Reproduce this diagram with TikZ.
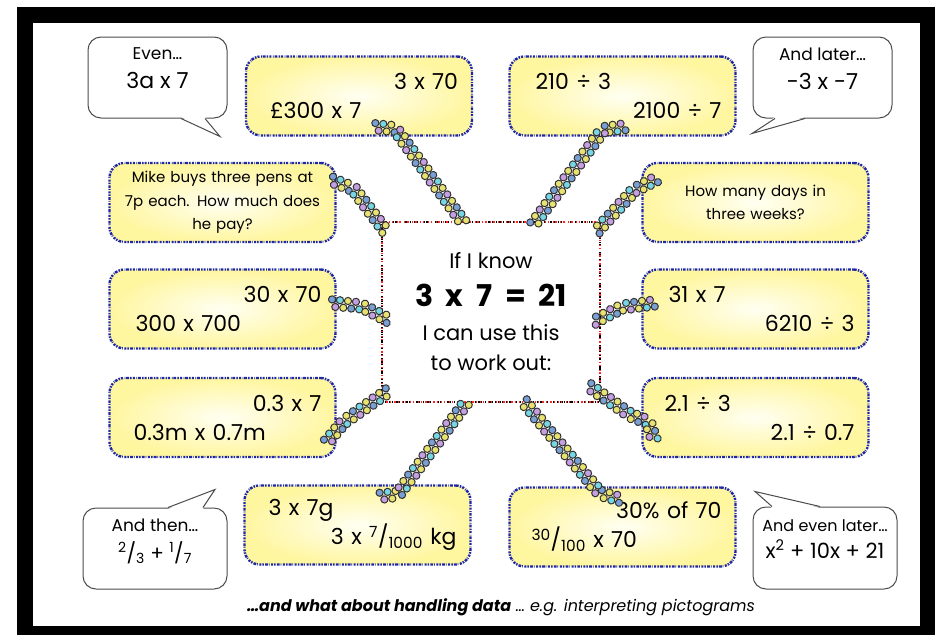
\documentclass[tikz,border=0pt]{standalone}
\usepackage{fontspec}
\setmainfont{Poppins}
\usetikzlibrary{calc,decorations.markings}

\definecolor{rimblue}{RGB}{30,40,165}
\definecolor{boxyellow}{RGB}{255,246,160}
\definecolor{beadyellow}{RGB}{232,226,112}
\definecolor{beadcyan}{RGB}{118,214,228}
\definecolor{beadpurple}{RGB}{198,158,226}
\definecolor{beadblue}{RGB}{120,160,212}

\tikzset{
  sumbox/.style={rounded corners=15pt, draw=rimblue, line width=2.4pt,
    dash pattern=on 1.5pt off 1.2pt on 2.8pt off 0.9pt on 0.7pt off 1.6pt on 2pt off 1.1pt,
    inner color=yellow!5, outer color=boxyellow,
    minimum width=226pt, minimum height=79pt, text width=198pt, align=left,
    inner sep=0pt, font=\fontsize{22}{29}\selectfont},
  wordbox/.style={sumbox, text width=215pt, align=center, font=\fontsize{15}{23.5}\selectfont},
  centrebox/.style={draw=black, line width=2.4pt, fill=white,
    dash pattern=on 1pt off 2pt on 2.5pt off 1pt on 0.8pt off 3pt,
    postaction={draw=red!85, line width=1.4pt, dash pattern=on 0.8pt off 3.5pt on 1.5pt off 2pt},
    minimum width=218pt, minimum height=180pt, align=center, inner sep=0pt,
    font=\fontsize{21}{30}\selectfont},
  bubble/.style={draw=black!70, line width=1pt, fill=white, rounded corners=13pt,
    minimum width=139pt, minimum height=81pt, align=center, inner sep=0pt,
    text depth=18pt, font=\fontsize{17}{29}\selectfont},
  tail/.style={draw=black!70, line width=1pt},
  beadchain/.style={postaction={decorate}, decoration={markings,
    mark=between positions 0 and 1 step 4pt with {
      \pgfmathtruncatemacro{\beadn}{\pgfkeysvalueof{/pgf/decoration/mark info/sequence number}}
      \pgfmathtruncatemacro{\beadk}{mod(\beadn*3+int(\beadn/5),4)}
      \pgfmathsetmacro{\beadoff}{(mod(\beadn,2)*2-1)*3.6}
      \ifcase\beadk \def\beadcol{beadyellow}\or\def\beadcol{beadcyan}\or\def\beadcol{beadpurple}\else\def\beadcol{beadblue}\fi
      \draw[fill=\beadcol, draw=black!80, line width=1pt] (0pt,\beadoff pt) circle (3.6pt);
    }}},
}

\begin{document}
\begin{tikzpicture}[x=1pt, y=-1pt]
\useasboundingbox (0,0) rectangle (939,635);
% Frame
\fill[black] (17,7) rectangle (935,635);
\fill[white] (33,23) rectangle (920,626);

% Speech bubbles
\node[bubble] (s1) at (157.5,77.5) {Even…\\\fontsize{22}{29}\selectfont 3a x 7};
\node[bubble] (s2) at (822.5,77.5) {And later…\\\fontsize{22}{29}\selectfont -3 x -7};
\node[bubble, minimum width=144pt] (s3) at (155,548.5) {And then…\\\fontsize{20}{29}\selectfont \textsuperscript{2}/\textsubscript{3} + \textsuperscript{1}/\textsubscript{7}};
\node[bubble, minimum width=144pt, minimum height=82pt, font=\fontsize{16}{27}\selectfont] (s4) at (825,548) {And even later…\\\fontsize{21}{27}\selectfont x\textsuperscript{2} + 10x + 21};

% Bubble tails
\coordinate (s1tip) at ($(s1.south)+(62.5,18)$);
\fill[white] ($(s1.south)+(23.5,-1.5)$) -- (s1tip) -- ($(s1.south)+(47.5,-1.5)$) -- cycle;
\draw[tail] ($(s1.south)+(23.5,0)$) -- (s1tip) -- ($(s1.south)+(47.5,0)$);
\coordinate (s2tip) at ($(s2.south)+(-70.5,15)$);
\fill[white] ($(s2.south)+(-47.5,-1.5)$) -- (s2tip) -- ($(s2.south)+(-17.5,-1.5)$) -- cycle;
\draw[tail] ($(s2.south)+(-47.5,0)$) -- (s2tip) -- ($(s2.south)+(-17.5,0)$);
\coordinate (s3tip) at ($(s3.north)+(60,-18)$);
\fill[white] ($(s3.north)+(13,1.5)$) -- (s3tip) -- ($(s3.north)+(48,1.5)$) -- cycle;
\draw[tail] ($(s3.north)+(13,0)$) -- (s3tip) -- ($(s3.north)+(48,0)$);
\coordinate (s4tip) at ($(s4.north)+(-70,-15)$);
\fill[white] ($(s4.north)+(-53,1.5)$) -- (s4tip) -- ($(s4.north)+(-5,1.5)$) -- cycle;
\draw[tail] ($(s4.north)+(-53,0)$) -- (s4tip) -- ($(s4.north)+(-5,0)$);

% Sum boxes
\node[sumbox] (b1) at (359,96) {\hfill 3 x 70\\\hspace*{10pt}£300 x 7};
\node[sumbox] (b2) at (622.5,96) {\hspace*{12pt}210 ÷ 3\\\hfill 2100 ÷ 7};
\node[wordbox] (b3) at (222.5,202.5) {Mike buys three pens at\\7p each. How much does\\he pay?};
\node[wordbox] (b4) at (755.5,202.5) {How many days in\\three weeks?};
\node[sumbox] (b5) at (222.5,309) {\hfill 30 x 70\\\hspace*{12pt}300 x 700};
\node[sumbox] (b6) at (755.5,309) {\hspace*{12pt}31 x 7\\\hfill 6210 ÷ 3};
\node[sumbox] (b7) at (222.5,417.5) {\hfill 0.3 x 7\\\hspace*{10pt}0.3m x 0.7m};
\node[sumbox] (b8) at (755.5,417.5) {\hspace*{8pt}2.1 ÷ 3\\\hfill 2.1 ÷ 0.7};
\node[sumbox] (b9) at (357.5,525) {\hspace*{10pt}3 x 7g\\\hfill 3 x \textsuperscript{7}/\textsubscript{1000} kg};
\node[sumbox] (b10) at (622.5,527) {\hfill 30\% of 70\\\hspace*{8pt}\textsuperscript{30}/\textsubscript{100} x 70};

% Centre
\node[centrebox] (centre) at (491,312) {If I know\\[8pt]\fontsize{30}{30}\selectfont\bfseries 3~ x~ 7~ =~ 21\\[4pt]\mdseries\fontsize{21}{30}\selectfont I can use this\\to work out:};

% Bead chains
\path[beadchain] ($(b1.south)+(16,-10)$) -- ($(b1.south)+(36,-8)$) -- ($(centre.north)+(-26,4)$);
\path[beadchain] ($(b2.south)+(2.5,-10)$) -- ($(b2.south)+(-19.5,-7)$) -- ($(centre.north)+(42,4)$);
\path[beadchain] ($(b3.east)+(-5,-22.5)$) -- ($(b3.east)+(17,-13.5)$) -- ($(centre.north west)+(6,12)$);
\path[beadchain] ($(b4.west)+(15,-23.5)$) -- ($(b4.west)+(-7,-12.5)$) -- ($(centre.north east)+(-6,12)$);
\path[beadchain] ($(b5.east)+(-5,-6)$) -- ($(b5.east)+(25,-3)$) -- ($(centre.west)+(8,8)$);
\path[beadchain] ($(b6.west)+(13,-6)$) -- ($(b6.west)+(-19,-2)$) -- ($(centre.east)+(-8,10)$);
\path[beadchain] ($(b7.east)+(-10,24.5)$) -- ($(b7.east)+(7,4.5)$) -- ($(centre.south west)+(10,-14)$);
\path[beadchain] ($(centre.south east)+(-12,-17)$) -- ($(b8.west)+(-11,-2.5)$) -- ($(b8.west)+(7,4.5)$) -- ($(b8.west)+(13,22.5)$);
\path[beadchain] ($(b9.north)+(22.5,12)$) -- ($(b9.north)+(40.5,10)$) -- ($(centre.south)+(-24,-2)$);
\path[beadchain] ($(b10.north)+(-2.5,13)$) -- ($(b10.north)+(-22.5,7)$) -- ($(centre.south)+(31,-4)$);

% Footnote
\node[font=\fontsize{16}{20}\selectfont\itshape] (note) at (501,607) {\bfseries …and what about handling data\mdseries{} … e.g. interpreting pictograms};
\end{tikzpicture}
\end{document}
